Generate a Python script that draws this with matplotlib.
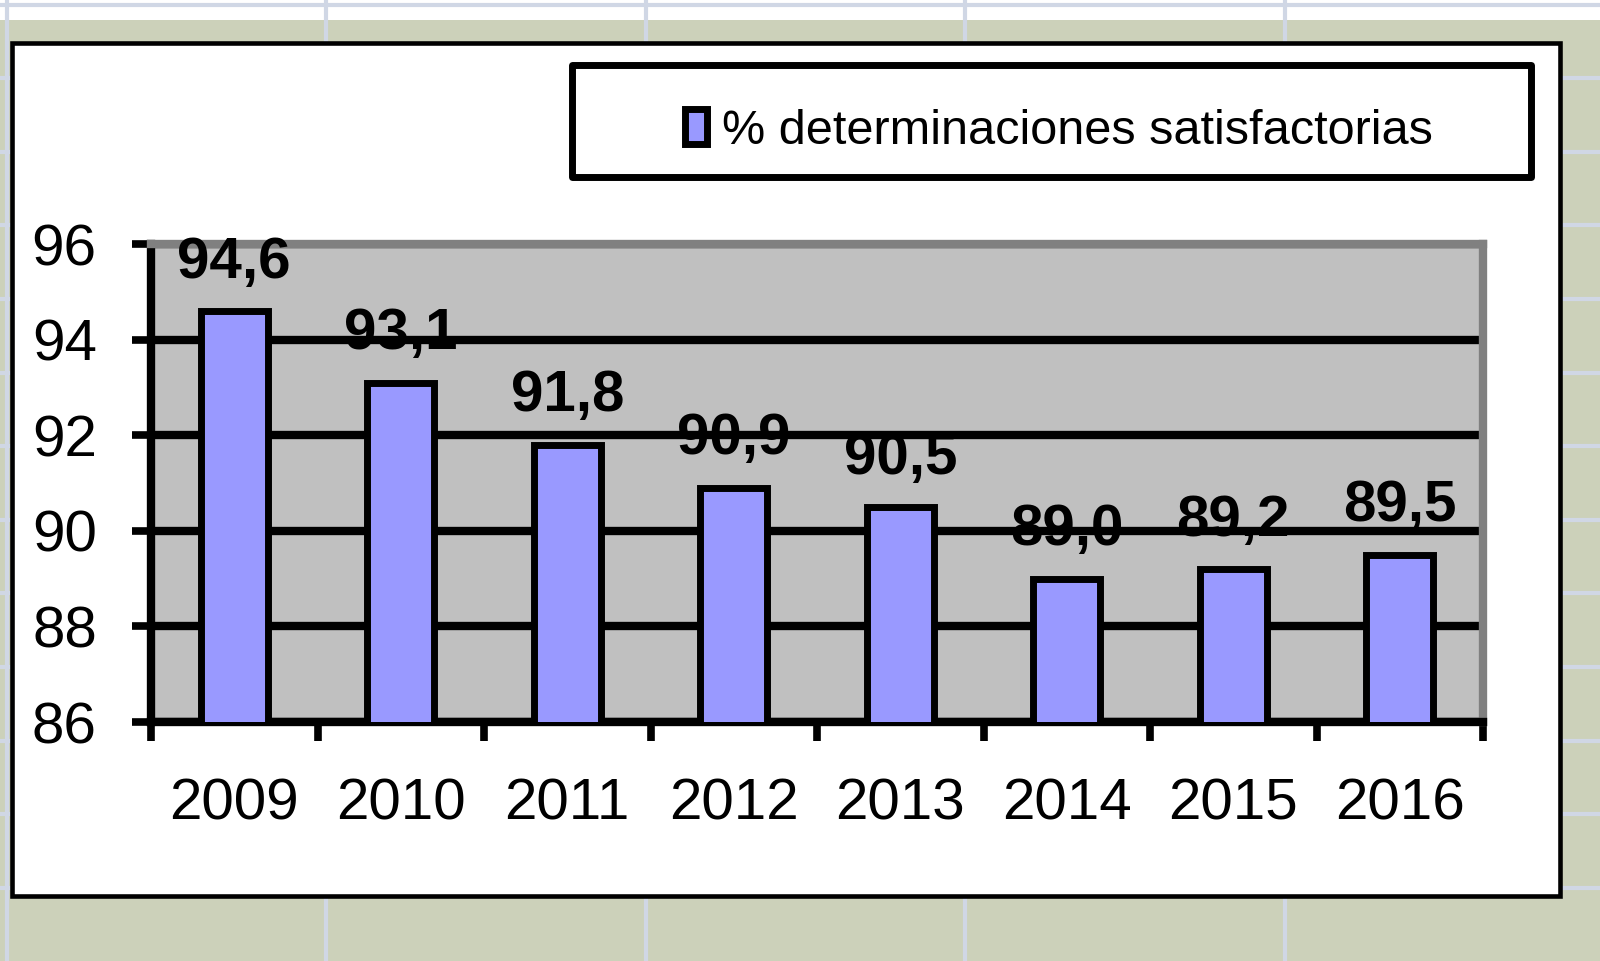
import matplotlib
matplotlib.use('Agg')
import matplotlib.pyplot as plt
import numpy as np
from matplotlib.patches import Rectangle

# ---- data ----
years = ['2009', '2010', '2011', '2012', '2013', '2014', '2015', '2016']
values = [94.6, 93.1, 91.8, 90.9, 90.5, 89.0, 89.2, 89.5]
value_labels = ['94,6', '93,1', '91,8', '90,9', '90,5', '89,0', '89,2', '89,5']
series_name = '% determinaciones satisfactorias'
yticks = [86, 88, 90, 92, 94, 96]

W, H = 1600, 961
plt.rcParams['font.family'] = ['Liberation Sans', 'DejaVu Sans']
fig = plt.figure(figsize=(W / 100, H / 100), dpi=100)
fig.patch.set_facecolor('#CCD1BA')

# ---- spreadsheet-like background ----
bg = fig.add_axes([0, 0, 1, 1])
bg.set_xlim(0, W)
bg.set_ylim(H, 0)
bg.axis('off')
bg.add_patch(Rectangle((0, 0), W, 20, facecolor='white', edgecolor='none', zorder=0))
for yy in np.arange(4.5, H, 73.6):
    bg.plot([0, W], [yy, yy], color='#D0D7E5', lw=3, solid_capstyle='butt', zorder=1)
for xx in np.arange(6.5, W, 319.6):
    bg.plot([xx, xx], [0, H], color='#D0D7E5', lw=3, solid_capstyle='butt', zorder=1)

# chart area
bg.add_patch(Rectangle((12, 42.5), 1547.5, 853, facecolor='white',
                       edgecolor='black', lw=3.3, zorder=3))
# legend frame
bg.add_patch(Rectangle((572, 65), 959, 111.5, facecolor='white',
                       edgecolor='black', lw=5, joinstyle='round', zorder=4))

# ---- plot area ----
top, bottom, left, right = 244, 722, 151, 1483
ax = fig.add_axes([left / W, 1 - bottom / H, (right - left) / W, (bottom - top) / H])
ax.set_facecolor('#C0C0C0')

x = np.arange(len(years))
ax.bar(x, values, width=0.40, color='#9999FF', edgecolor='black',
       linewidth=5, zorder=3, label=series_name)

ax.set_xlim(-0.5, len(years) - 0.5)
ax.set_ylim(86, 96)
ax.set_yticks(yticks)
ax.set_yticklabels([str(t) for t in yticks])
ax.yaxis.grid(True, color='black', lw=6)
ax.set_axisbelow(True)

ax.set_xticks(np.arange(-0.5, len(years), 1))
ax.set_xticklabels([])
ax.set_xticks(x, minor=True)
ax.set_xticklabels(years, minor=True)
ax.tick_params(axis='x', which='major', direction='out', length=14, width=5.5, color='black')
ax.tick_params(axis='x', which='minor', length=0, pad=40, labelsize=42)
ax.tick_params(axis='y', direction='out', length=14, width=5.5, pad=25, labelsize=42)

for s in ['left', 'bottom']:
    ax.spines[s].set_color('black')
    ax.spines[s].set_linewidth(6)
for s in ['top', 'right']:
    ax.spines[s].set_color('#808080')
    ax.spines[s].set_linewidth(6)

for xi, v, lab in zip(x, values, value_labels):
    ax.annotate(lab, (xi, v), xytext=(0, 24), textcoords='offset points',
                ha='center', va='baseline', fontsize=42, fontweight='bold',
                zorder=5, annotation_clip=False)

handles, labels = ax.get_legend_handles_labels()
fig.legend(handles, labels, loc='center', bbox_to_anchor=(1059 / W, 1 - 131 / H),
           frameon=False, fontsize=35, handlelength=0.45, handleheight=0.75,
           handletextpad=0.3, borderpad=0)

fig.savefig('out.png', dpi=100, facecolor=fig.get_facecolor())
